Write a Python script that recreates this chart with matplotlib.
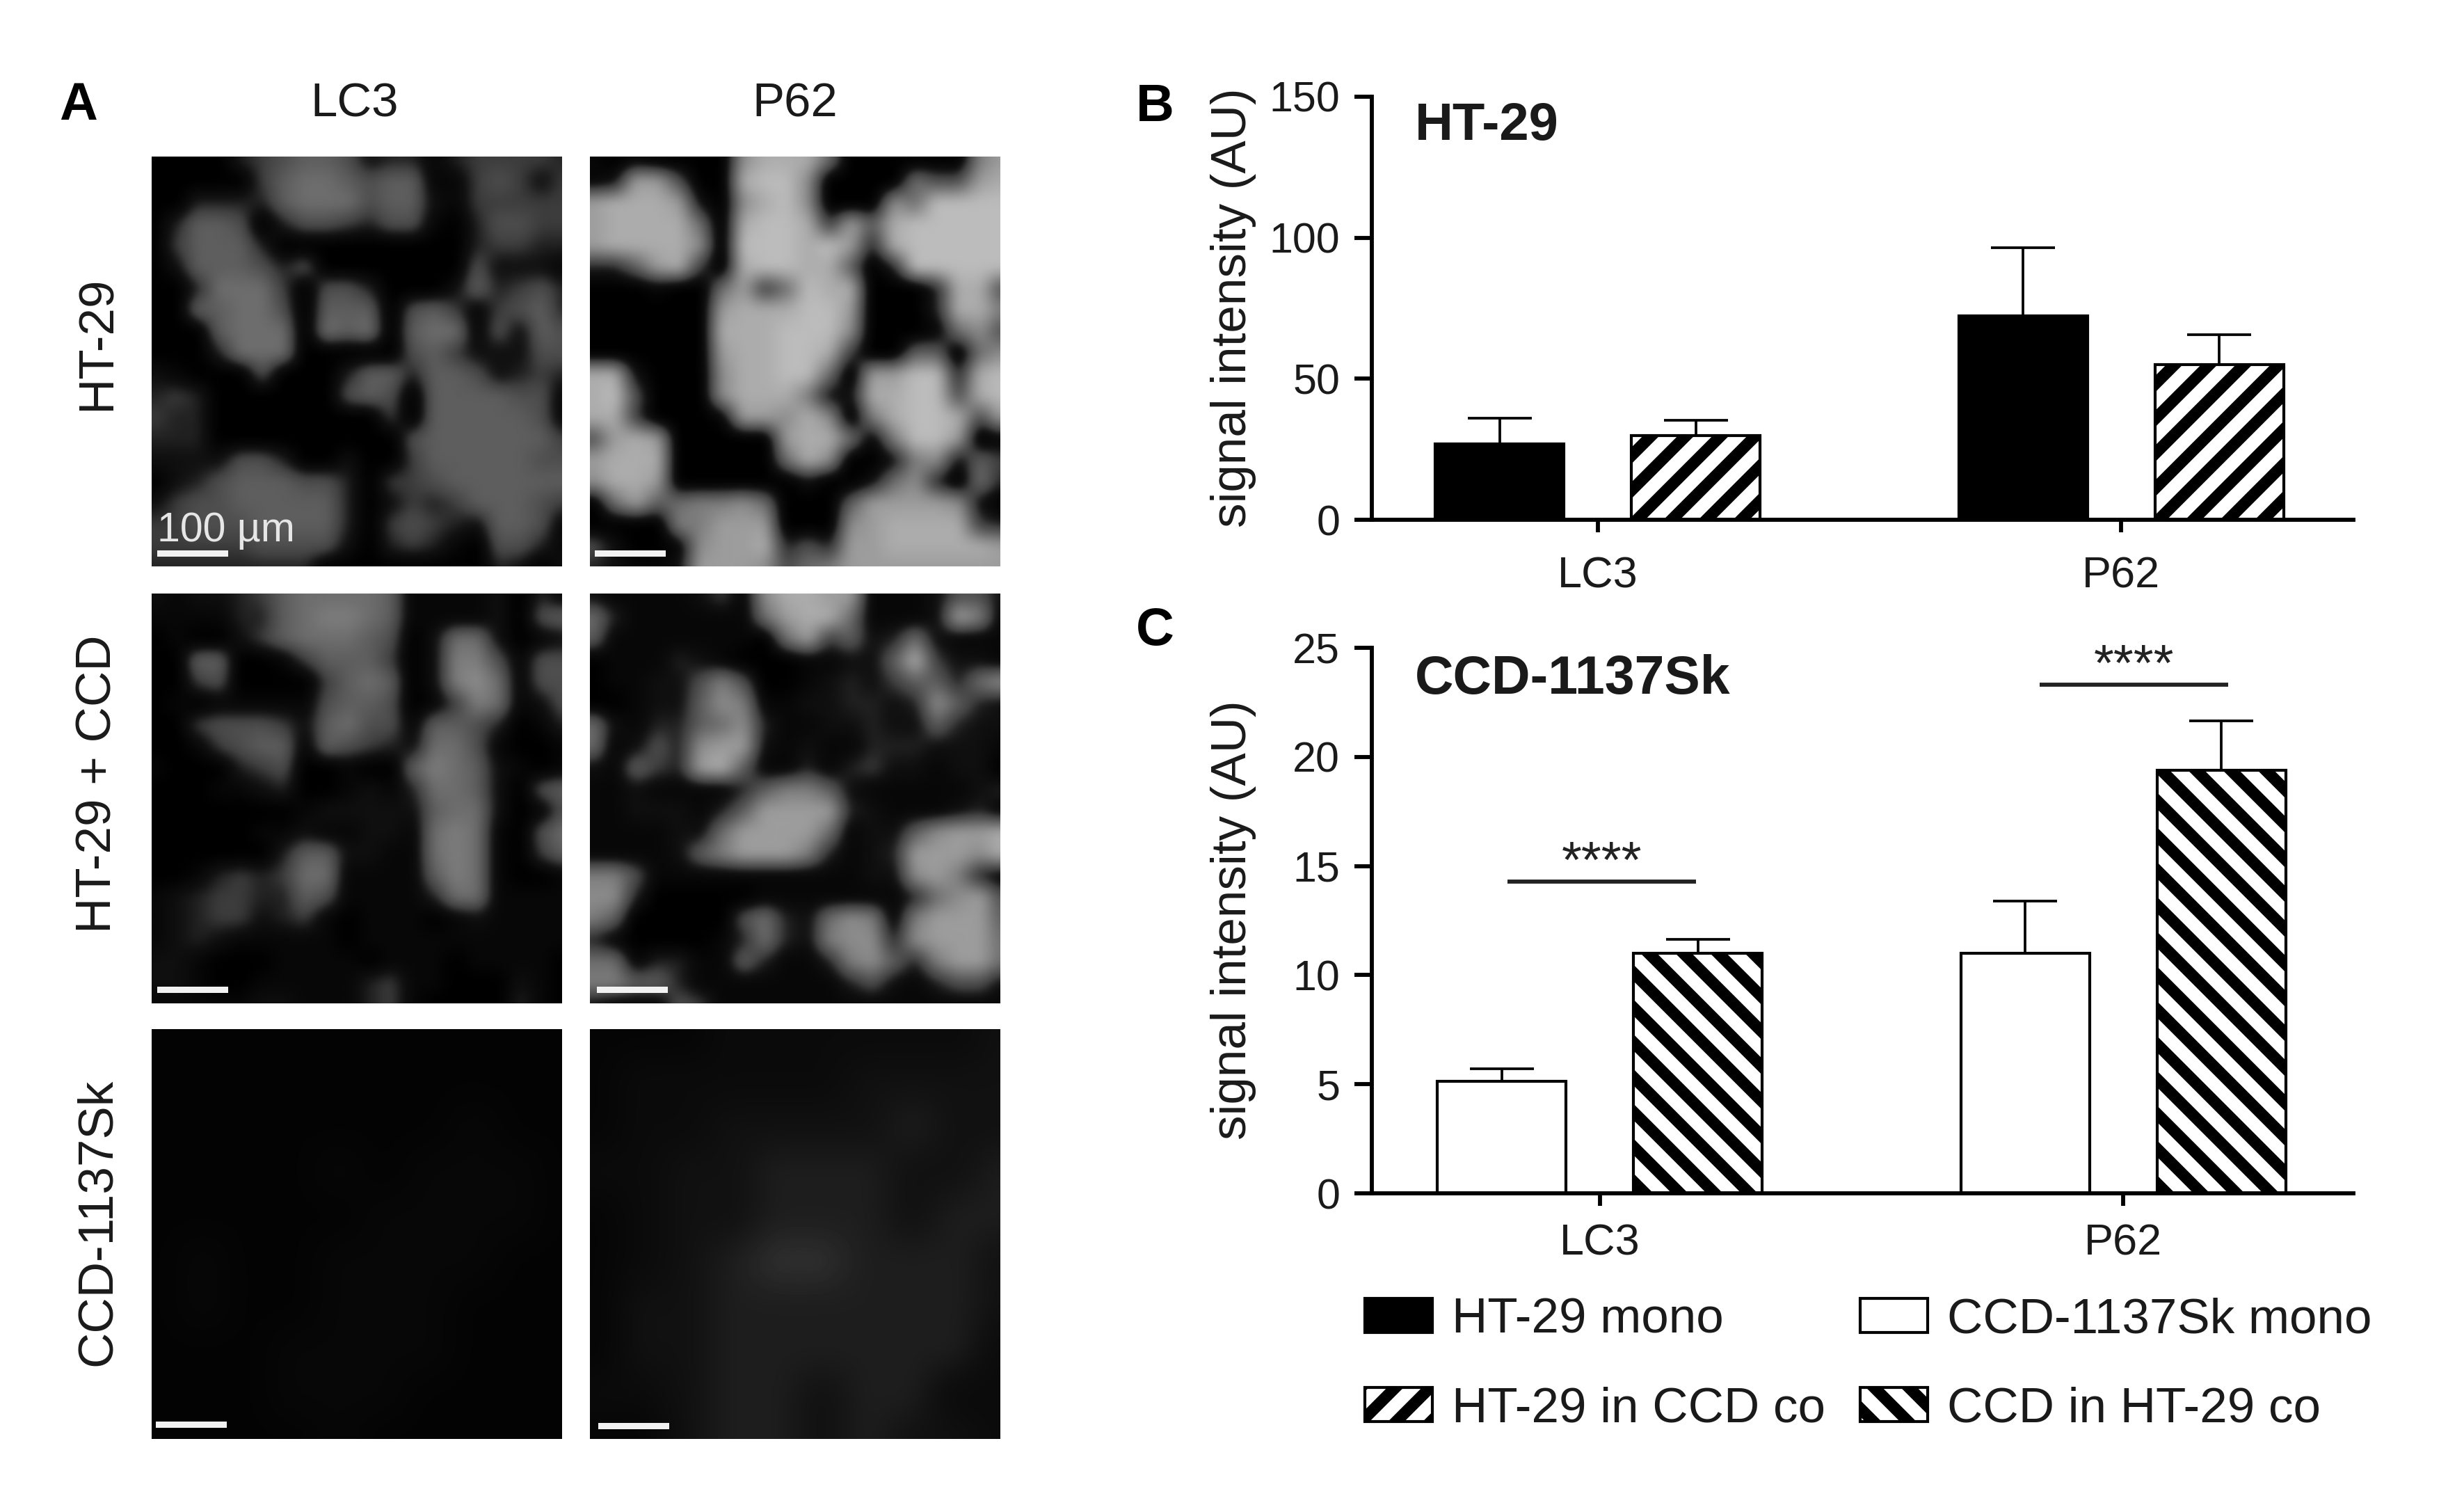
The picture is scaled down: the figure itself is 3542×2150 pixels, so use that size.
import numpy as np
import matplotlib
matplotlib.use("Agg")
import matplotlib.pyplot as plt
from matplotlib.patches import Patch, Rectangle

plt.rcParams['font.family'] = ['Liberation Sans', 'DejaVu Sans']
plt.rcParams['hatch.linewidth'] = 4.0

W, H = 3542, 2150
DPI = 300
PT = 72 / DPI

# ---------- data ----------
categories = ["LC3", "P62"]
b_mono = [26.9, 72.2]
b_mono_top = [36.1, 96.5]
b_co = [29.8, 55.0]
b_co_top = [35.4, 65.6]
c_mono = [5.13, 11.0]
c_mono_top = [5.7, 13.4]
c_co = [11.0, 19.4]
c_co_top = [11.65, 21.65]
c_sig_levels = [14.27, 23.3]
c_sig_centers = [0.003, 1.021]
legend_labels = ["HT-29 mono", "HT-29 in CCD co", "CCD-1137Sk mono", "CCD in HT-29 co"]
b_ticks = [0, 50, 100, 150]
c_ticks = [0, 5, 10, 15, 20, 25]

# brightness (one hex digit per cell)
lc3_ht29 = """
0000 3 45665 233 1 3 44443
00000 46776 566 11 45424
00 3 3 3 3 6777 5 66 2 1 44444
0 3 6 6 5 0 3 5 5 4 3 5 5 1 0 3 5 5 4 4
0 4 6 6 6 3 00000000 0 3 4 4 3 3
0 2 6 6 6 5 3 5 0000000 5 2 2 2 1
0 0 3 7 7 7 4 0 5 5 3 0 0 0 2 6 3 4 5 3
0 0 6 6 7 7 5 0 6 6 6 0 5 6 4 1 4 5 6 3
0 0 0 6 7 7 7 0 7 6 7 0 6 7 7 1 5 2 6 5
0 0 0 3 7 7 7 0 0 0 0 0 5 6 4 2 2 2 5 5
2 1 0 0 0 5 0 0 0 3 6 6 3 6 6 5 2 3 4 3
3 4 3 0 0 0 0 0 0 5 6 5 0 6 6 6 6 5 5 1
4 3 3 0 0 0 0 0 0 0 0 4 0 6 6 6 6 6 5 1
3 3 3 0 0 0 0 0 0 0 0 0 5 6 6 6 6 6 6 4
2 2 2 2 5 5 3 0 0 2 0 0 4 6 6 6 6 6 5 5
0 2 3 5 6 6 6 5 5 3 0 4 4 5 6 6 6 6 6 6
2 4 5 5 6 6 6 6 6 3 0 2 4 3 4 6 6 6 5 4
4 4 5 5 5 6 6 6 6 3 0 4 5 4 3 2 6 6 5 1
4 4 4 4 4 5 5 5 5 2 0 3 4 3 1 0 5 5 3 1
3 3 3 3 3 3 3 3 0 0 0 0 0 0 0 0 3 2 0 2
"""
p62_ht29 = """
1 0 1 0 0 0 0 9 b b b 7 0 0 0 0 0 0 8 a
1 2 a a 5 0 0 b c c 9 0 0 0 0 7 5 5 a b
a b b b a 2 0 9 b c 9 0 0 0 9 7 c c c c
a b b b b 7 0 b c c b 4 a 6 b c c c c c
a b b b b 9 0 c c c b c a 3 b c c c c c
3 3 6 a b 4 0 b c c b b 6 0 3 c c c c c
0 0 0 1 0 0 7 a 4 7 c b b 0 0 0 3 b b 5
0 0 0 0 0 0 a b b b c c a 0 0 0 3 b b 8
0 0 0 0 0 0 b b b c c c 9 0 0 0 1 7 9 5
0 0 0 0 0 0 a b b c c b 4 0 0 6 6 0 7 9
b b 2 0 0 0 9 b b c c 7 0 a a c c 3 b c
b c 5 0 0 0 9 b b b 8 2 2 b b c c 5 b c
b b 4 0 0 0 1 a a 9 b 9 0 8 b c c b 5 a
5 a b a 0 0 0 0 0 a b b 7 1 8 c c a 0 1
a b b b 0 0 0 0 0 7 b 9 0 0 2 8 9 2 6 4
9 b b a 0 0 0 0 0 0 2 0 0 2 7 9 3 0 7 3
0 7 a 6 7 8 8 9 7 0 0 0 6 a a a a 9 2 0
0 0 0 0 8 8 a a a 0 0 0 9 a b b b b 4 3
5 2 0 0 1 9 a a b 3 5 3 a a b b b b b a
3 2 1 1 2 a a a 9 5 7 8 a a a a a a a a
"""
lc3_co = """
2 1 2 2 3 4 6 7 7 7 7 6 1 1 1 1 2 0 3 1
1 1 1 1 3 3 6 7 8 8 7 6 1 1 1 1 2 0 5 6
0 1 0 0 2 4 6 7 7 7 6 5 0 2 7 7 2 0 1 2
0 0 6 6 0 0 1 4 6 6 6 4 0 2 8 8 5 1 5 5
0 0 4 5 0 0 0 0 4 6 7 6 0 2 8 9 7 1 5 5
0 1 0 1 1 1 1 1 5 6 6 5 0 1 4 8 7 1 2 5
0 0 4 5 5 5 4 2 6 7 5 5 1 6 6 5 3 0 1 3
0 0 1 4 5 6 6 1 6 5 4 3 2 7 7 5 1 0 0 1
1 0 0 0 3 4 5 0 0 1 0 0 6 8 7 6 2 1 0 1
0 0 0 1 1 2 3 0 0 1 2 1 3 7 7 6 2 0 5 6
0 0 0 0 0 0 0 1 2 2 2 2 2 6 7 7 2 0 1 5
0 0 0 0 0 1 1 2 1 1 2 2 1 7 8 7 1 0 5 7
0 0 0 0 0 0 3 6 6 2 2 1 1 7 8 7 1 0 4 6
0 0 1 3 4 3 4 7 7 1 1 1 1 6 8 7 1 0 0 1
1 2 3 4 4 3 3 6 5 1 1 1 1 3 7 7 1 1 1 1
1 2 3 4 4 2 3 4 1 0 1 1 1 0 1 2 1 1 1 1
1 2 3 2 1 1 1 1 1 0 1 1 1 1 1 1 1 1 1 1
2 2 1 0 0 0 1 1 1 1 0 1 1 1 0 1 1 1 1 0
2 2 1 0 0 1 1 1 1 1 3 4 1 1 0 0 0 2 1 0
1 1 1 1 1 2 2 1 1 1 3 4 1 0 0 0 0 3 1 0
"""
p62_co = """
2 1 1 1 1 2 4 1 9 b b a a 1 1 1 2 5 5 2
7 3 1 1 1 1 1 1 7 a b b 7 1 1 1 2 a 8 1
6 1 1 1 1 1 1 1 0 7 a 4 6 2 3 7 2 1 1 1
0 1 1 1 3 2 1 0 0 0 1 1 2 2 6 b 4 2 2 1
0 1 1 2 2 5 8 5 0 0 1 2 3 2 4 6 6 3 7 9
0 0 1 2 2 6 9 8 1 1 2 2 3 3 2 3 9 6 3 2
7 2 1 3 3 6 7 9 3 1 1 2 2 3 2 2 6 3 2 2
7 1 2 5 3 9 a a 2 1 2 1 1 3 3 3 2 2 2 1
2 1 6 4 3 a b 6 1 1 3 1 3 4 2 2 1 2 2 0
1 1 2 1 1 1 1 3 6 8 8 6 2 1 1 1 1 1 2 3
1 1 2 2 2 1 3 6 a a a a 3 2 1 1 1 2 3 1
1 1 1 1 2 2 7 a a a a 7 1 2 2 6 9 a a b
1 1 1 1 2 6 8 a a a 8 3 1 2 3 a a a 9 b
8 8 5 1 1 1 1 1 1 1 1 1 1 2 2 9 a 8 3 1
9 9 3 0 0 0 0 0 1 1 1 1 1 1 1 3 7 9 a 5
8 6 0 0 0 0 0 5 7 3 2 7 9 8 1 8 a a a 6
3 1 0 0 0 0 1 3 7 3 2 8 9 9 3 9 a a a 7
7 7 1 3 3 1 1 6 3 1 1 3 8 9 6 3 8 a a 7
8 8 6 6 3 1 1 1 1 1 1 1 3 5 2 1 3 5 5 2
2 1 1 1 5 4 1 1 1 1 1 1 1 1 1 1 1 1 1 1
"""
lc3_ccd = """
1 1 1 1 1 1 1 1 1 1
1 1 1 1 1 1 1 1 1 1
1 1 1 1 1 1 1 2 1 1
1 1 1 1 2 1 2 2 2 1
1 1 1 1 1 2 2 2 2 1
1 2 1 1 2 2 2 2 1 1
1 2 1 1 2 2 2 1 1 1
1 1 1 2 2 2 2 1 1 1
1 1 1 2 2 2 1 1 1 1
1 1 1 1 2 1 1 1 1 1
"""
p62_ccd = """
1 1 1 2 2 2 2 2 2 3
1 2 2 2 2 2 3 3 3 3
1 2 2 3 3 3 3 4 3 3
2 2 3 3 4 4 4 3 3 4
1 2 3 3 4 4 4 3 4 4
1 2 3 4 5 5 4 4 4 3
1 3 3 4 4 4 4 4 4 3
1 3 3 4 4 4 4 4 4 2
2 2 3 4 4 3 4 4 2 2
1 1 3 4 4 3 4 3 3 2
"""
panel_grids = [lc3_ht29, p62_ht29, lc3_co, p62_co, lc3_ccd, p62_ccd]
panel_gains = [17, 17, 17, 17, 8, 12]
panel_rects = [(218, 225), (848, 225), (218, 853), (848, 853), (218, 1479), (848, 1479)]
scalebar_spans = [(226, 795), (855, 795), (226, 1422), (858, 1422), (224, 2047), (860, 2049)]

fig = plt.figure(figsize=(W / DPI, H / DPI), dpi=DPI, facecolor="white")


def rect(x0, y0, x1, y1):
    return [x0 / W, 1 - y1 / H, (x1 - x0) / W, (y1 - y0) / H]


def label(x, y, s, px, **kw):
    kw.setdefault("ha", "center")
    kw.setdefault("va", "center")
    return fig.text(x / W, 1 - y / H, s, fontsize=px * PT, **kw)


def crisp(arr, factor=10):
    """Resample a coarse brightness grid and tighten the blob edges."""
    n, m = arr.shape
    xs = np.linspace(0, m - 1, m * factor)
    ys = np.linspace(0, n - 1, n * factor)
    a = np.array([np.interp(xs, np.arange(m), r) for r in arr])
    a = np.array([np.interp(ys, np.arange(n), c) for c in a.T]).T
    kernel = np.ones(factor // 2 + 1) / (factor // 2 + 1)
    for _ in range(2):
        p = np.pad(a, len(kernel), mode="edge")
        p = np.apply_along_axis(lambda v: np.convolve(v, kernel, "same"), 0, p)
        p = np.apply_along_axis(lambda v: np.convolve(v, kernel, "same"), 1, p)
        a = p[len(kernel):-len(kernel), len(kernel):-len(kernel)]
    t = np.clip((a - 30) / 45, 0, 1)
    s = t * t * (3 - 2 * t)
    return a * (0.45 + 0.47 * s)


overlay = fig.add_axes([0, 0, 1, 1], zorder=5)
overlay.set_xlim(0, W)
overlay.set_ylim(H, 0)
overlay.axis("off")

# ---------- panel A ----------
for grid, gain, (x0, y0), (sx, sy) in zip(panel_grids, panel_gains, panel_rects, scalebar_spans):
    arr = np.array([[int(c, 16) for c in row.replace(" ", "")] for row in grid.strip().splitlines()], float) * gain
    ax = fig.add_axes(rect(x0, y0, x0 + 590, y0 + 589))
    ax.imshow(crisp(arr), cmap="gray", vmin=0, vmax=255, interpolation="bilinear", aspect="auto")
    ax.axis("off")
    overlay.add_patch(Rectangle((sx, sy - 4.5), 102, 9, fc="#f2f2f2", ec="none"))

label(113, 153, "A", 76, fontweight="bold")
label(510, 150, "LC3", 69, color="#1a1a1a")
label(1143, 150, "P62", 69, color="#1a1a1a")
label(141, 493, "HT-29", 71, rotation=90, color="#1a1a1a")
label(141, 1127, "HT-29 + CCD", 71, rotation=90, color="#1a1a1a")
label(141, 1756, "CCD-1137Sk", 71, rotation=90, color="#1a1a1a")
label(226, 762, "100 µm", 59, ha="left", color="#e6e6e6", zorder=10)


# ---------- panels B, C ----------
def bars(box, mono, mono_top, co, co_top, mono_color, hatch, ymax, ticks, pad, xshift):
    ax = fig.add_axes(rect(*box))
    x = np.arange(len(categories))
    off, width = 0.1875, 0.246
    lo = [0, 0]
    ax.bar(x - off, mono, width, color=mono_color, edgecolor="black", linewidth=1.0, zorder=2)
    ax.bar(x + off, co, width, color="white", edgecolor="black", linewidth=1.0, hatch=hatch, zorder=2)
    for xs, vals, tops in ((x - off, mono, mono_top), (x + off, co, co_top)):
        ax.errorbar(xs, vals, yerr=[lo, np.subtract(tops, vals)], fmt="none", ecolor="black",
                    elinewidth=0.9, capsize=11, capthick=0.9, zorder=1)
    ax.set_xlim(-0.432 + xshift, 1.444 + xshift)
    ax.set_ylim(0, ymax)
    ax.set_xticks(x, categories)
    ax.set_yticks(ticks)
    for s in ("top", "right"):
        ax.spines[s].set_visible(False)
    for s in ("left", "bottom"):
        ax.spines[s].set_linewidth(1.4)
    ax.tick_params(axis="y", length=6, width=1.4, pad=5, labelsize=61 * PT, labelcolor="#1a1a1a")
    ax.tick_params(axis="x", length=4.3, width=1.4, pad=pad, labelsize=63 * PT, labelcolor="#1a1a1a")
    return ax


ax_b = bars((1972, 139, 3383, 747), b_mono, b_mono_top, b_co, b_co_top, "black", "//", 150, b_ticks, 8, 0)
ax_c = bars((1972, 931, 3383, 1715), c_mono, c_mono_top, c_co, c_co_top, "white", "\\\\", 25, c_ticks, 6, -0.004)

for center, level in zip(c_sig_centers, c_sig_levels):
    ax_c.plot([center - 0.18, center + 0.18], [level, level], color="#222222", lw=1.4, solid_capstyle="butt")
    ax_c.annotate("****", (center, level), xytext=(0, -2), textcoords="offset points", ha="center", va="bottom",
                  fontsize=74 * PT, color="#222222")

label(1773, 442, "signal intensity (AU)", 71, rotation=90, color="#1a1a1a")
label(1773, 1322, "signal intensity (AU)", 71, rotation=90, color="#1a1a1a")
label(2034, 181, "HT-29", 76, ha="left", fontweight="bold", color="#1a1a1a")
label(2034, 976, "CCD-1137Sk", 77, ha="left", fontweight="bold", color="#1a1a1a")
label(1660, 154, "B", 76, fontweight="bold")
label(1660, 908, "C", 76, fontweight="bold")

# ---------- legend ----------
handles = [
    Patch(fc="black", ec="black", lw=1.0),
    Patch(fc="white", ec="black", lw=1.0, hatch="//"),
    Patch(fc="white", ec="black", lw=1.0),
    Patch(fc="white", ec="black", lw=1.0, hatch="\\\\"),
]
fs = 71
fig.legend(handles, legend_labels, ncols=2, loc="upper left",
           bbox_to_anchor=(1962 / W, 1 - 1864 / H), frameon=False, fontsize=fs * PT,
           handlelength=97 / fs, handleheight=49 / fs, handletextpad=28 / fs,
           labelspacing=0.88, columnspacing=50 / fs, borderpad=0, borderaxespad=0,
           labelcolor="#1a1a1a")

fig.savefig("out.png", dpi=DPI)
